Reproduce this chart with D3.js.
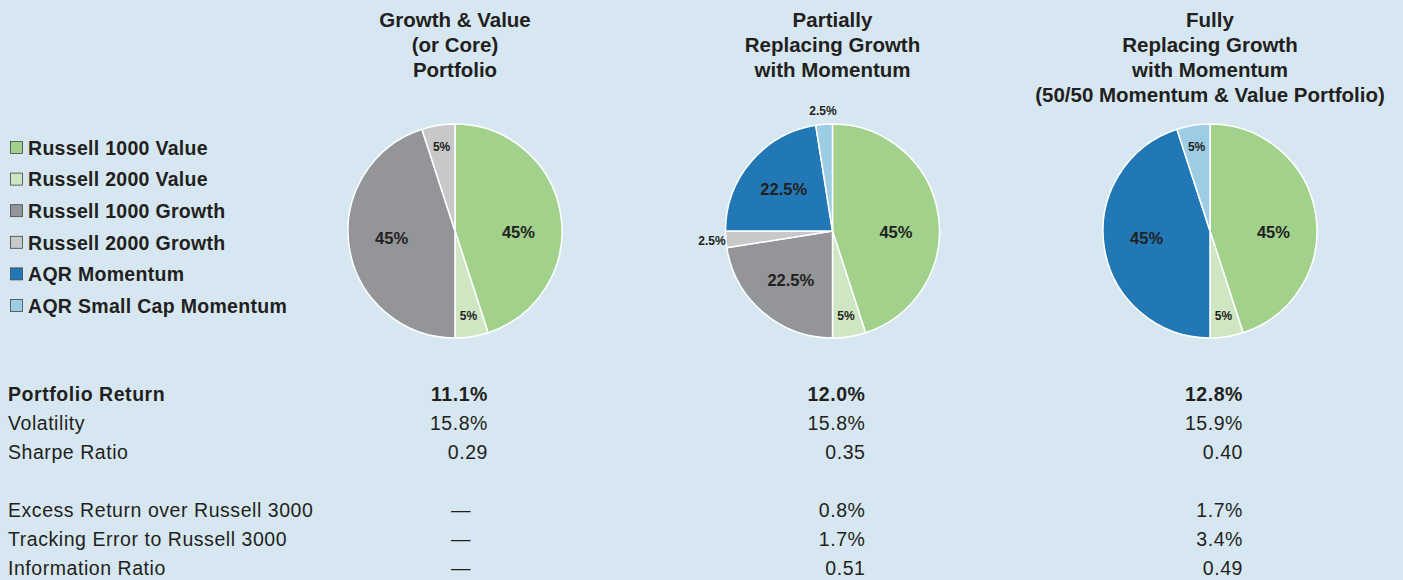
<!DOCTYPE html>
<html>
<head>
<meta charset="utf-8">
<script src="https://cdn.jsdelivr.net/npm/d3@7/dist/d3.min.js"></script>
<style>
  body { margin: 0; background: #d6e7f1; }
  text { font-family: "Liberation Sans", Arial, sans-serif; fill: #231f20; }
</style>
</head>
<body>
<div id="main-container"></div>
<script>
var width = 1403,
    height = 580

// data
var assets = ["Russell 1000 Value", "Russell 2000 Value", "Russell 1000 Growth",
  "Russell 2000 Growth", "AQR Momentum", "AQR Small Cap Momentum"]
var assetColors = ["#a1d18b", "#cfe6c3", "#939598", "#c7c8ca", "#2178b5", "#9dcde5"]

var titles = [
  ["Growth & Value", "(or Core)", "Portfolio"],
  ["Partially", "Replacing Growth", "with Momentum"],
  ["Fully", "Replacing Growth", "with Momentum", "(50/50 Momentum & Value Portfolio)"]
]
var coreWeights = [45, 5, 45, 5, 0, 0]
var partialWeights = [45, 5, 22.5, 2.5, 22.5, 2.5]
var fullWeights = [45, 5, 0, 0, 45, 5]

var metricNames = ["Portfolio Return", "Volatility", "Sharpe Ratio", "",
  "Excess Return over Russell 3000", "Tracking Error to Russell 3000", "Information Ratio"]
var coreStats = ["11.1%", "15.8%", "0.29", "", "—", "—", "—"]
var partialStats = ["12.0%", "15.8%", "0.35", "", "0.8%", "1.7%", "0.51"]
var fullStats = ["12.8%", "15.9%", "0.40", "", "1.7%", "3.4%", "0.49"]

var allWeights = [coreWeights, partialWeights, fullWeights]
var allStats = [coreStats, partialStats, fullStats]

var svg = d3.select("#main-container").append("svg")
  .attr("width", width)
  .attr("height", height)

var xPie = d3.scalePoint()
  .domain([0, 1, 2])
  .range([455, 1210])

var r = 107, pieY = 231

var pie = d3.pie().sort(null).value(function(d){ return d.w })
var arc = d3.arc().innerRadius(0).outerRadius(r)

// titles
titles.forEach(function(lines, i){
  svg.append("g")
    .attr("transform", "translate(" + xPie(i) + ",0)")
    .selectAll("text")
    .data(lines)
    .enter().append("text")
      .attr("text-anchor", "middle")
      .attr("y", function(d, j){ return 26.5 + j * 25.3 })
      .attr("font-size", 20.5)
      .attr("font-weight", "bold")
      .text(function(d){ return d })
})

// pies
allWeights.forEach(function(weights, i){
  var data = weights.map(function(w, k){ return {w: w, k: k} })
  var arcs = pie(data).filter(function(d){ return d.data.w > 0 })
  var g = svg.append("g")
    .attr("transform", "translate(" + xPie(i) + "," + pieY + ")")

  g.selectAll("path")
    .data(arcs)
    .enter().append("path")
      .attr("d", arc)
      .attr("fill", function(d){ return assetColors[d.data.k] })
      .attr("stroke", "#fff")
      .attr("stroke-width", 1.5)

  g.selectAll(".lbl")
    .data(arcs)
    .enter().append("text")
      .attr("class", "lbl")
      .attr("text-anchor", "middle")
      .attr("dy", "0.35em")
      .attr("font-weight", "bold")
      .attr("font-size", function(d){ return d.data.w >= 20 ? 16.5 : 12 })
      .attr("transform", function(d){
        var w = d.data.w
        var rr = w >= 20 ? r * 0.6 : (w >= 5 ? r * 0.8 : r * 1.13)
        var a = (d.startAngle + d.endAngle) / 2
        // big half-pie labels sit near the horizontal in the original
        var yy = w >= 40 ? -Math.cos(a) * rr * 0.3 + 4 : -Math.cos(a) * rr
        return "translate(" + (Math.sin(a) * rr) + "," + yy + ")"
      })
      .text(function(d){ return d.data.w + "%" })
})

// legend
var yLeg = d3.scaleLinear().domain([0, 5]).range([148, 306])
var leg = svg.append("g").selectAll("g")
  .data(assets)
  .enter().append("g")
    .attr("transform", function(d, i){ return "translate(10," + yLeg(i) + ")" })
leg.append("rect")
  .attr("x", 0.5).attr("y", -6.5)
  .attr("width", 12).attr("height", 12)
  .attr("fill", function(d, i){ return assetColors[i] })
  .attr("stroke", "#444").attr("stroke-width", 0.8)
leg.append("text")
  .attr("x", 18)
  .attr("dy", "0.35em")
  .attr("font-size", 19.5)
  .attr("letter-spacing", 0.3)
  .attr("font-weight", "bold")
  .text(function(d){ return d })

// stats table
var yRow = d3.scaleLinear().domain([0, 6]).range([394, 568])
svg.append("g").selectAll("text")
  .data(metricNames)
  .enter().append("text")
    .attr("x", 8)
    .attr("y", function(d, i){ return yRow(i) })
    .attr("dy", "0.35em")
    .attr("font-size", 19.5)
    .attr("letter-spacing", 0.55)
    .attr("font-weight", function(d, i){ return i == 0 ? "bold" : "normal" })
    .text(function(d){ return d })

allStats.forEach(function(stats, c){
  svg.append("g").selectAll("text")
    .data(stats)
    .enter().append("text")
      .attr("x", function(d){ return xPie(c) + (d == "—" ? 16 : 33) })
      .attr("y", function(d, i){ return yRow(i) })
      .attr("dy", "0.35em")
      .attr("text-anchor", "end")
      .attr("font-size", 19.5)
      .attr("letter-spacing", 0.55)
      .attr("font-weight", function(d, i){ return i == 0 ? "bold" : "normal" })
      .text(function(d){ return d })
})
</script>
</body>
</html>
